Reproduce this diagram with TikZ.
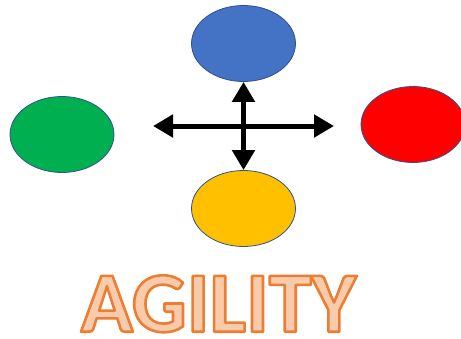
\documentclass[tikz,border=0pt]{standalone}
\usepackage{fontspec}
\setmainfont{Carlito}
\usetikzlibrary{arrows.meta,shapes.geometric}
\definecolor{cblue}{HTML}{4472C4}
\definecolor{cgreen}{HTML}{00B050}
\definecolor{cred}{HTML}{FF0000}
\definecolor{cyellow}{HTML}{FFC000}
\definecolor{edgeblue}{HTML}{2F528F}
\definecolor{orline}{HTML}{ED7D31}
\definecolor{orfill}{HTML}{F8CBAD}
\newcommand{\outlinedtext}[1]{\special{pdf:literal direct 0.929 0.490 0.192 RG 2.6 w 1 j 2 Tr}#1\special{pdf:literal direct 0 Tr}}
\tikzset{
  blob/.style={ellipse, draw=edgeblue, line width=0.8pt, minimum width=104pt, minimum height=76pt, inner sep=0pt},
  dbl/.style={line width=5pt, {Triangle[length=20pt,width=22pt]}-{Triangle[length=20pt,width=22pt]}, shorten <=0pt, shorten >=0pt},
  word/.style={font=\bfseries\fontsize{86}{86}\selectfont, anchor=base, inner sep=0pt}
}
\begin{document}
\begin{tikzpicture}[x=1pt,y=-1pt]
\useasboundingbox (0,0) rectangle (461,338);
\node[blob, fill=cblue] (top) at (243.5,43.5) {};
\node[blob, fill=cgreen] (left) at (62,134.5) {};
\node[blob, fill=cred] (right) at (413,124.5) {};
\node[blob, fill=cyellow] (bottom) at (243.5,208.5) {};
\coordinate (hl) at (153,126);
\coordinate (hr) at (334,126);
\draw[dbl] (hl) -- (hr);
\draw[dbl] (top.south) -- (bottom.north);
\node[word, text=orfill] (agility) at (218.5,331.7) {\outlinedtext{AGILITY}};
\end{tikzpicture}
\end{document}
